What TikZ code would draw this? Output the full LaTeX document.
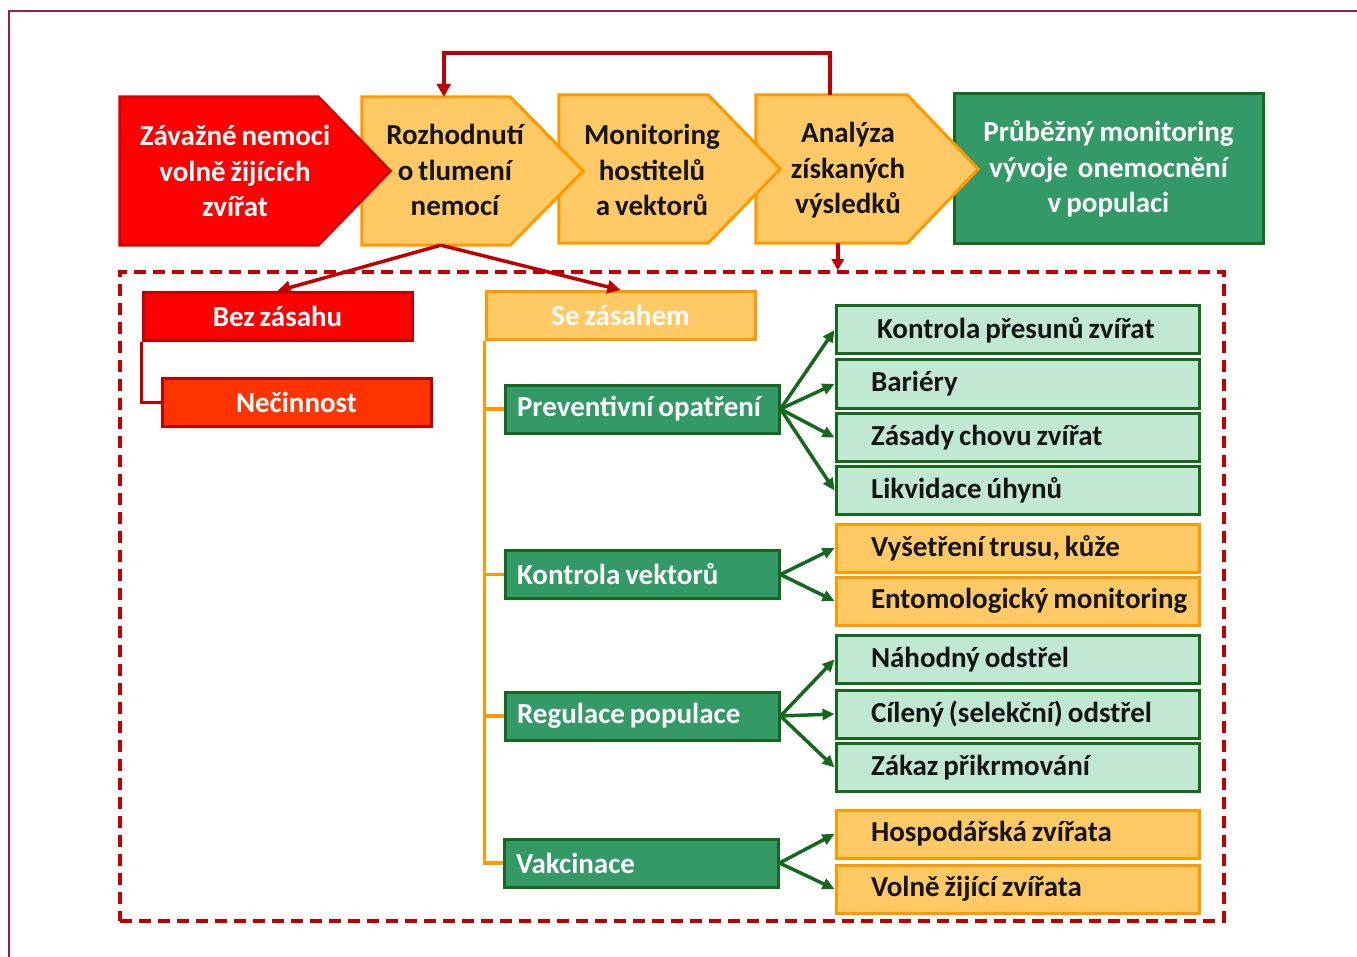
\documentclass[tikz,border=0pt]{standalone}
\usepackage{fontspec}
\setmainfont{Carlito}[WordSpace=0.75]
\usetikzlibrary{arrows.meta,calc}

\definecolor{framemaroon}{RGB}{150,30,70}
\definecolor{darkred}{RGB}{192,0,0}
\definecolor{brightred}{RGB}{255,0,0}
\definecolor{redorange}{RGB}{255,51,0}
\definecolor{paleorange}{RGB}{255,201,102}
\definecolor{orangeline}{RGB}{255,153,0}
\definecolor{midgreen}{RGB}{51,153,102}
\definecolor{darkgreen}{RGB}{20,105,30}
\definecolor{palegreen}{RGB}{192,232,210}
\definecolor{inkblack}{RGB}{20,20,20}

\begin{document}
\begin{tikzpicture}[x=1pt,y=-1pt,
  font=\fontsize{29}{35.5}\selectfont\bfseries,
  every node/.style={inner sep=0pt},
  holder/.style={minimum width=#1, minimum height=148pt},
  chevred/.style={fill=brightred, draw=darkred!60!brightred, line width=3pt, line join=miter},
  chevorange/.style={fill=paleorange, draw=orangeline, line width=3pt, line join=miter},
  chevtext/.style={align=center},
  box/.style={minimum height=48pt, line width=3pt},
  redbox/.style={box, minimum width=269pt, draw=darkred, text=white},
  gbox/.style={box, fill=midgreen, draw=darkgreen, text=white,
    text width=250pt, inner xsep=12pt, align=flush left},
  rbox/.style={box, text width=363pt, inner xsep=0pt, align=flush left,
    execute at begin node={\hspace*{35pt}}},
  lightbox/.style={rbox, fill=palegreen, draw=darkgreen, text=inkblack},
  orangebox/.style={rbox, fill=paleorange, draw=orangeline, text=inkblack},
  redarrow/.style={draw=darkred, line width=3.5pt, -{Triangle[length=13pt,width=13pt]}},
  greenarrow/.style={draw=darkgreen, line width=3.5pt, -{Triangle[length=12pt,width=11pt]}},
  trunk/.style={draw=orangeline, line width=3.5pt},
]
\useasboundingbox (0,0) rectangle (1357,957);

% outer frame line
\draw[framemaroon, line width=2.5pt] (9,960) -- (9,11) -- (1360,11);

% ---- top process row ----
\node[box, minimum width=309pt, minimum height=150pt, fill=midgreen, draw=darkgreen,
  text=white, align=center] (c5) at (1108.5,169)
  {Průběžný monitoring\\vývoje\hspace{5pt} onemocnění\\v populaci};

\node[holder=222pt] (c4) at (867,169) {};
\node[holder=221pt] (c3) at (669.5,169) {};
\node[holder=221pt] (c2) at (472.5,171) {};
\node[holder=270pt] (c1) at (255,171) {};

\draw[chevorange] (c4.north west) -- ([xshift=-71]c4.north east) -- (c4.east)
  -- ([xshift=-71]c4.south east) -- (c4.south west) -- cycle;
\draw[chevorange] (c3.north west) -- ([xshift=-72]c3.north east) -- (c3.east)
  -- ([xshift=-72]c3.south east) -- (c3.south west) -- cycle;
\draw[chevorange] (c2.north west) -- ([xshift=-73]c2.north east) -- (c2.east)
  -- ([xshift=-73]c2.south east) -- (c2.south west) -- cycle;
\draw[chevred] (c1.north west) -- ([xshift=-72]c1.north east) -- (c1.east)
  -- ([xshift=-72]c1.south east) -- (c1.south west) -- cycle;

\node[chevtext, text=white] (t1) at (235,171) {Závažné nemoci\\volně žijících\\zvířat};
\node[chevtext, text=inkblack] (t2) at (455,170) {Rozhodnutí\\o tlumení\\nemocí};
\node[chevtext, text=inkblack] (t3) at (652,170) {Monitoring\\hostitelů\\a vektorů};
\node[chevtext, text=inkblack] (t4) at (848,170.5) {Analýza\\získaných\\výsledků};

% feedback loop from analysis back to decision
\draw[redarrow, -{Triangle[length=13pt,width=14pt]}]
  ([xshift=74]c4.north west) -- ++(0,-42) -| ([xshift=82]c2.north west);

% ---- lower dashed region ----
\node[draw=darkred, line width=3.5pt, dash pattern=on 12pt off 7pt,
  minimum width=1104pt, minimum height=649pt] (frame) at (672,596.5) {};

\coordinate (fb) at ([xshift=82]c4.south west);
\draw[redarrow, -{Triangle[length=11pt,width=12pt]}] (fb) -- (fb |- frame.north);

% first split
\node[redbox, fill=brightred] (bez) at (277.5,316.5) {Bez zásahu};
\node[redbox, fill=redorange] (nec) at (296.5,402.5) {Nečinnost};
\node[box, minimum width=269pt, fill=paleorange, draw=orangeline, text=white] (se)
  at (620.5,315.5) {Se zásahem};

\coordinate (dec) at ([xshift=79]c2.south west);
\draw[redarrow] (dec) -- (bez.north);
\draw[redarrow] (dec) -- (se.north);
\draw[draw=darkred, line width=3pt] (bez.south west) |- (nec.west);

% measures
\node[gbox] (prev) at (642,409) {Preventivní opatření};
\node[gbox] (kv) at (642,574.5) {Kontrola vektorů};
\node[gbox] (reg) at (642,716) {Regulace populace};
\node[gbox] (vak) at (641,863) {Vakcinace};

\draw[trunk] (se.south west) |- (vak.west);
\draw[trunk] (se.south west |- prev.west) -- (prev.west);
\draw[trunk] (se.south west |- kv.west) -- (kv.west);
\draw[trunk] (se.south west |- reg.west) -- (reg.west);

% detail boxes
\node[lightbox] (k1) at (1017.5,330) {\hspace*{6pt}Kontrola přesunů zvířat};
\node[lightbox] (k2) at (1017.5,384) {Bariéry};
\node[lightbox] (k3) at (1017.5,437.5) {Zásady chovu zvířat};
\node[lightbox] (k4) at (1017.5,490.5) {Likvidace úhynů};
\node[orangebox] (v1) at (1017.5,548) {Vyšetření trusu, kůže};
\node[orangebox] (v2) at (1017.5,601) {Entomologický monitoring};
\node[lightbox] (r1) at (1017.5,659.5) {Náhodný odstřel};
\node[lightbox] (r2) at (1017.5,714) {Cílený (selekční) odstřel};
\node[lightbox] (r3) at (1017.5,767.5) {Zákaz přikrmování};
\node[orangebox] (h1) at (1017.5,834) {Hospodářská zvířata};
\node[orangebox] (h2) at (1017.5,889) {Volně žijící zvířata};

\foreach \t in {k1,k2,k3,k4} \draw[greenarrow] (prev.east) -- (\t.west);
\foreach \t in {v1,v2} \draw[greenarrow] (kv.east) -- (\t.west);
\foreach \t in {r1,r2,r3} \draw[greenarrow] (reg.east) -- (\t.west);
\foreach \t in {h1,h2} \draw[greenarrow] (vak.east) -- (\t.west);
\end{tikzpicture}
\end{document}
